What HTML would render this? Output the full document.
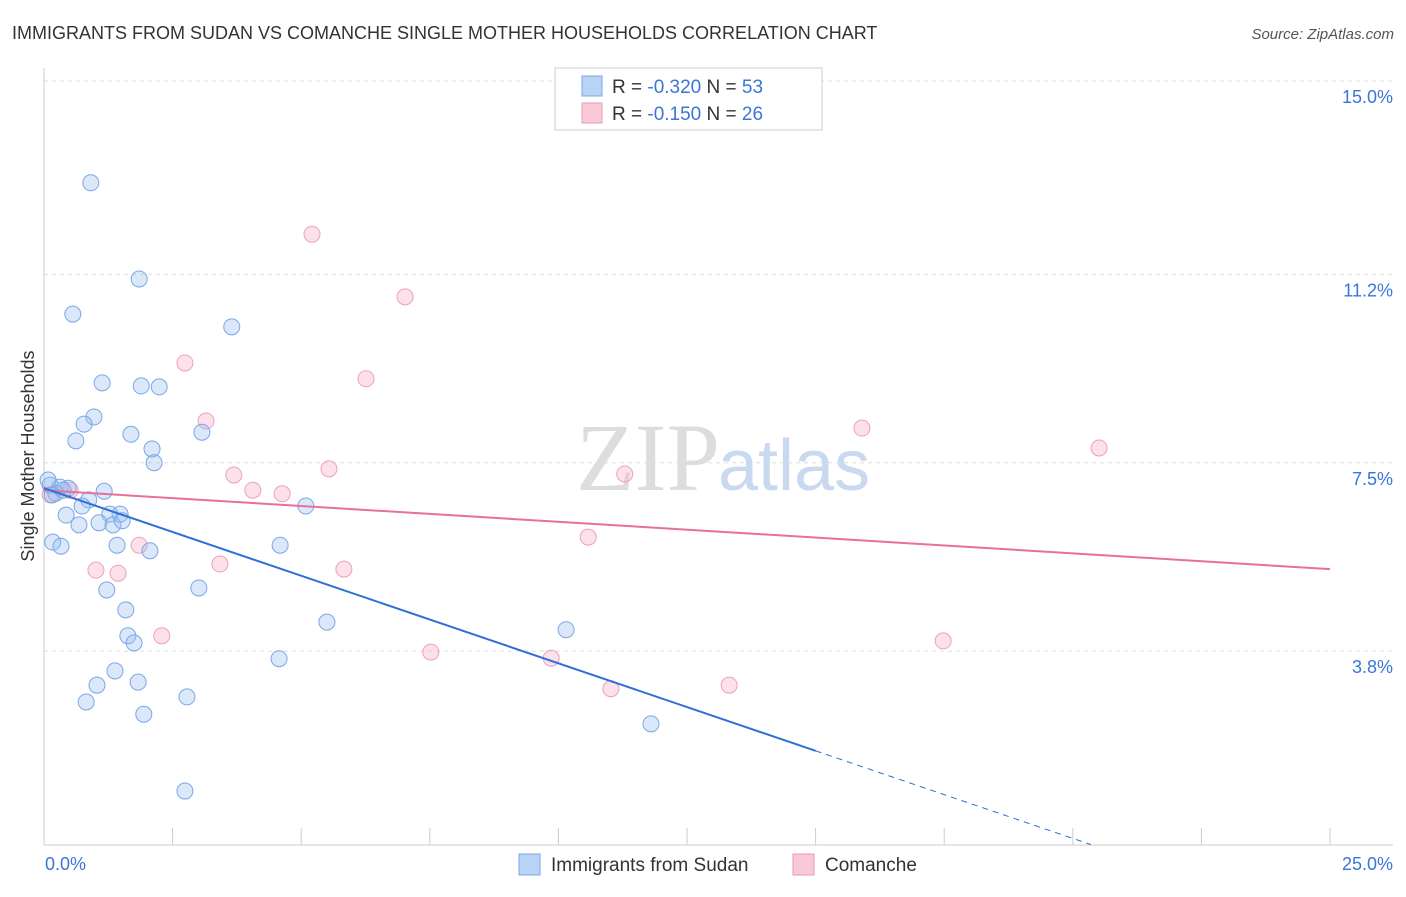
<!DOCTYPE html>
<html><head><meta charset="utf-8"><style>
body{margin:0;background:#fff;font-family:"Liberation Sans",sans-serif;}
</style></head><body>
<svg width="1406" height="892" xmlns="http://www.w3.org/2000/svg" style="font-family:'Liberation Sans',sans-serif">
<text x="12" y="39" font-size="18" fill="#333">IMMIGRANTS FROM SUDAN VS COMANCHE SINGLE MOTHER HOUSEHOLDS CORRELATION CHART</text>
<text x="1394" y="39" font-size="15" fill="#555" text-anchor="end" font-style="italic">Source: ZipAtlas.com</text>
<g id="grid"></g>
<text x="720" y="490" font-size="96" fill="#ddd" text-anchor="end" font-family="Liberation Serif">ZIP</text>
<text x="718" y="490" font-size="72" fill="#c9d9f0">atlas</text>
<line x1="44" y1="68" x2="44" y2="845" stroke="#ccc"/>
<line x1="44" y1="845" x2="1393" y2="845" stroke="#ccc"/>
<g id="xt"></g>
<text x="45" y="870" font-size="18" fill="#3a76d8">0.0%</text>
<text x="1393" y="870" font-size="18" fill="#3a76d8" text-anchor="end">25.0%</text>
<text transform="translate(34,456) rotate(-90)" font-size="18" fill="#333" text-anchor="middle">Single Mother Households</text>
<g id="pts"></g>
<g id="lines"></g>
<g>
<rect x="555" y="68" width="267" height="62" fill="#fff" stroke="#ccc"/>
<rect x="582" y="76" width="20" height="20" fill="#b8d3f5" stroke="#7aa7e6"/>
<rect x="582" y="103" width="20" height="20" fill="#f9c9d8" stroke="#eb9ab5"/>
<text x="612" y="93" font-size="19" fill="#333">R = <tspan fill="#3a76d8">-0.320</tspan>   N = <tspan fill="#3a76d8">53</tspan></text>
<text x="612" y="120" font-size="19" fill="#333">R = <tspan fill="#3a76d8"> -0.150</tspan>   N = <tspan fill="#3a76d8">26</tspan></text>
</g>
<g>
<rect x="519" y="854" width="21" height="21" fill="#b8d3f5" stroke="#7aa7e6"/>
<text x="551" y="871" font-size="19" fill="#333">Immigrants from Sudan</text>
<rect x="793" y="854" width="21" height="21" fill="#f9c9d8" stroke="#eb9ab5"/>
<text x="825" y="871" font-size="19" fill="#333">Comanche</text>
</g>
</svg>
<script>
const yTicks=[3.8,7.5,11.2,15.0];
const yTickLabels=["3.8%","7.5%","11.2%","15.0%"];
const xTicks=[0,2.5,5,7.5,10,12.5,15,17.5,20,22.5,25];
const sudanX=[0.91,1.85,0.56,3.65,1.13,1.89,2.24,0.97,0.78,1.69,3.07,0.62,2.10,2.14,0.12,0.31,0.47,1.17,0.23,0.87,0.74,5.09,0.43,1.48,1.28,0.68,1.07,1.34,1.52,0.17,0.33,1.42,2.06,4.59,1.22,3.01,1.59,5.50,10.15,1.63,1.75,4.57,1.38,1.83,1.03,2.78,0.82,1.94,11.80,2.74,0.08,0.16,0.37];
const sudanY=[13.0,11.11,10.42,10.17,9.07,9.01,8.99,8.40,8.26,8.06,8.10,7.93,7.77,7.50,7.06,7.02,7.00,6.94,6.90,6.77,6.65,6.65,6.47,6.49,6.49,6.28,6.32,6.28,6.36,5.94,5.86,5.88,5.77,5.88,5.00,5.04,4.61,4.37,4.22,4.10,3.96,3.65,3.41,3.19,3.13,2.90,2.80,2.56,2.37,1.05,7.16,6.87,6.96];
const comX=[5.21,7.02,2.74,6.26,3.15,15.90,20.51,5.54,3.69,11.29,4.06,4.63,0.51,0.12,10.58,1.85,3.42,1.01,1.44,5.83,2.29,17.48,7.52,9.86,13.32,11.02];
const comY=[11.99,10.76,9.46,9.15,8.32,8.18,7.79,7.38,7.26,7.28,6.96,6.89,6.96,6.87,6.04,5.88,5.51,5.39,5.33,5.41,4.10,4.00,3.78,3.66,3.13,3.06];
const sudanLine=[7.00,-0.344];
const comLine=[6.96,-0.062];
const NS="http://www.w3.org/2000/svg";
const X=v=>44+v*51.44, Y=v=>81+(15-v)*50.9;
function mk(t,a,p){const e=document.createElementNS(NS,t);for(const k in a)e.setAttribute(k,a[k]);p.appendChild(e);return e;}
const grid=document.getElementById('grid');
yTicks.forEach((t,i)=>{
 const l=mk('line',{x1:44,x2:1393,y1:Y(t),y2:Y(t),stroke:'#ddd','stroke-dasharray':'4,4'},grid);
 
 
 const tx=mk('text',{x:1393,y:Y(t)+22,'font-size':18,fill:'#3a76d8','text-anchor':'end'},grid);
 tx.textContent=yTickLabels[i];
 
 
});
const xt=document.getElementById('xt');
xTicks.forEach(t=>{
 const l=mk('line',{x1:X(t),x2:X(t),y1:828,y2:845,stroke:'#ccc'},xt);
 
 
});
const pts=document.getElementById('pts');
comX.forEach((x,i)=>{
 const c=mk('circle',{cx:X(x),cy:Y(comY[i]),r:8,fill:'rgba(245,170,195,0.35)',stroke:'#eba2bb','stroke-width':1},pts);
 
 
});
sudanX.forEach((x,i)=>{
 const c=mk('circle',{cx:X(x),cy:Y(sudanY[i]),r:8,fill:'rgba(150,190,240,0.35)',stroke:'#7aa7e6','stroke-width':1},pts);
 
 
});
const lines=document.getElementById('lines');
const f=(L,x)=>L[0]+L[1]*x;
let a=mk('line',{x1:X(0),y1:Y(f(comLine,0)),x2:X(25),y2:Y(f(comLine,25)),stroke:'#e8709a','stroke-width':2},lines);


let b=mk('line',{x1:X(0),y1:Y(f(sudanLine,0)),x2:X(15),y2:Y(f(sudanLine,15)),stroke:'#2f6fd6','stroke-width':2},lines);


const xe=-sudanLine[0]/sudanLine[1];
let d=mk('line',{x1:X(15),y1:Y(f(sudanLine,15)),x2:X(xe),y2:Y(0),stroke:'#2f6fd6','stroke-width':1,'stroke-dasharray':'6,5'},lines);


</script>
</body></html>
